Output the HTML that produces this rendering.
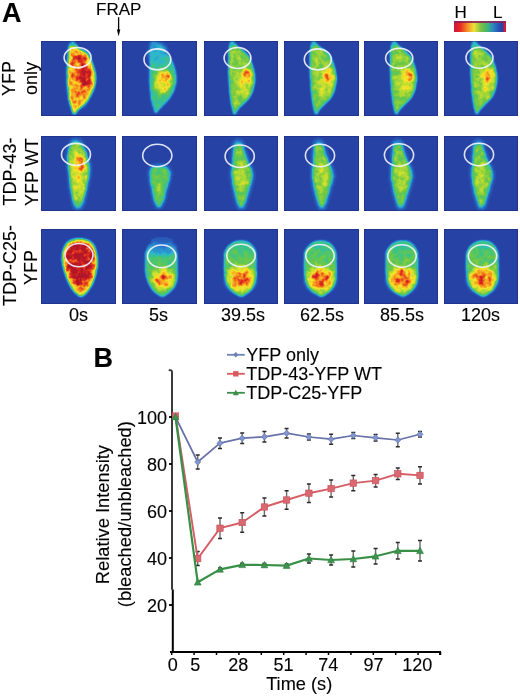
<!DOCTYPE html><html><head><meta charset="utf-8"><style>html,body{margin:0;padding:0;background:#fff;width:520px;height:696px;overflow:hidden}svg{display:block;will-change:transform}text{font-family:"Liberation Sans",sans-serif;stroke:#000;stroke-width:0.12px}</style></head><body>
<svg width="520" height="696" viewBox="0 0 520 696">
<defs>
<filter id="b1" x="-50%" y="-50%" width="200%" height="200%"><feGaussianBlur stdDeviation="1"/></filter>
<filter id="b15" x="-50%" y="-50%" width="200%" height="200%"><feGaussianBlur stdDeviation="1.5"/></filter>
<filter id="b13" x="-50%" y="-50%" width="200%" height="200%"><feGaussianBlur stdDeviation="1.3"/></filter>
<filter id="b2" x="-50%" y="-50%" width="200%" height="200%"><feGaussianBlur stdDeviation="2.2"/></filter>
<filter id="jet0" x="0" y="0" width="1" height="1" color-interpolation-filters="sRGB">
<feTurbulence type="fractalNoise" baseFrequency="0.2" numOctaves="2" seed="4" result="n"/>
<feColorMatrix in="n" type="matrix" values="1 0 0 0 0 1 0 0 0 0 1 0 0 0 0 0 0 0 0 1" result="ng"/>
<feComposite in="SourceGraphic" in2="ng" operator="arithmetic" k1="0.6" k2="0.7" k3="0" k4="0" result="m"/>
<feComponentTransfer in="m"><feFuncR type="table" tableValues="0.149 0.157 0.176 0.235 0.431 0.725 0.980 0.961 0.882 0.698"/><feFuncG type="table" tableValues="0.259 0.471 0.725 0.765 0.784 0.863 0.894 0.588 0.176 0.086"/><feFuncB type="table" tableValues="0.647 0.804 0.804 0.529 0.275 0.196 0.157 0.118 0.125 0.157"/><feFuncA type="identity"/></feComponentTransfer>
</filter>
<filter id="jet1" x="0" y="0" width="1" height="1" color-interpolation-filters="sRGB">
<feTurbulence type="fractalNoise" baseFrequency="0.2" numOctaves="2" seed="11" result="n"/>
<feColorMatrix in="n" type="matrix" values="1 0 0 0 0 1 0 0 0 0 1 0 0 0 0 0 0 0 0 1" result="ng"/>
<feComposite in="SourceGraphic" in2="ng" operator="arithmetic" k1="0.6" k2="0.7" k3="0" k4="0" result="m"/>
<feComponentTransfer in="m"><feFuncR type="table" tableValues="0.149 0.157 0.176 0.235 0.431 0.725 0.980 0.961 0.882 0.698"/><feFuncG type="table" tableValues="0.259 0.471 0.725 0.765 0.784 0.863 0.894 0.588 0.176 0.086"/><feFuncB type="table" tableValues="0.647 0.804 0.804 0.529 0.275 0.196 0.157 0.118 0.125 0.157"/><feFuncA type="identity"/></feComponentTransfer>
</filter>
<filter id="jet2" x="0" y="0" width="1" height="1" color-interpolation-filters="sRGB">
<feTurbulence type="fractalNoise" baseFrequency="0.2" numOctaves="2" seed="23" result="n"/>
<feColorMatrix in="n" type="matrix" values="1 0 0 0 0 1 0 0 0 0 1 0 0 0 0 0 0 0 0 1" result="ng"/>
<feComposite in="SourceGraphic" in2="ng" operator="arithmetic" k1="0.6" k2="0.7" k3="0" k4="0" result="m"/>
<feComponentTransfer in="m"><feFuncR type="table" tableValues="0.149 0.157 0.176 0.235 0.431 0.725 0.980 0.961 0.882 0.698"/><feFuncG type="table" tableValues="0.259 0.471 0.725 0.765 0.784 0.863 0.894 0.588 0.176 0.086"/><feFuncB type="table" tableValues="0.647 0.804 0.804 0.529 0.275 0.196 0.157 0.118 0.125 0.157"/><feFuncA type="identity"/></feComponentTransfer>
</filter>
<filter id="jet3" x="0" y="0" width="1" height="1" color-interpolation-filters="sRGB">
<feTurbulence type="fractalNoise" baseFrequency="0.2" numOctaves="2" seed="37" result="n"/>
<feColorMatrix in="n" type="matrix" values="1 0 0 0 0 1 0 0 0 0 1 0 0 0 0 0 0 0 0 1" result="ng"/>
<feComposite in="SourceGraphic" in2="ng" operator="arithmetic" k1="0.6" k2="0.7" k3="0" k4="0" result="m"/>
<feComponentTransfer in="m"><feFuncR type="table" tableValues="0.149 0.157 0.176 0.235 0.431 0.725 0.980 0.961 0.882 0.698"/><feFuncG type="table" tableValues="0.259 0.471 0.725 0.765 0.784 0.863 0.894 0.588 0.176 0.086"/><feFuncB type="table" tableValues="0.647 0.804 0.804 0.529 0.275 0.196 0.157 0.118 0.125 0.157"/><feFuncA type="identity"/></feComponentTransfer>
</filter>
<filter id="jet4" x="0" y="0" width="1" height="1" color-interpolation-filters="sRGB">
<feTurbulence type="fractalNoise" baseFrequency="0.2" numOctaves="2" seed="52" result="n"/>
<feColorMatrix in="n" type="matrix" values="1 0 0 0 0 1 0 0 0 0 1 0 0 0 0 0 0 0 0 1" result="ng"/>
<feComposite in="SourceGraphic" in2="ng" operator="arithmetic" k1="0.6" k2="0.7" k3="0" k4="0" result="m"/>
<feComponentTransfer in="m"><feFuncR type="table" tableValues="0.149 0.157 0.176 0.235 0.431 0.725 0.980 0.961 0.882 0.698"/><feFuncG type="table" tableValues="0.259 0.471 0.725 0.765 0.784 0.863 0.894 0.588 0.176 0.086"/><feFuncB type="table" tableValues="0.647 0.804 0.804 0.529 0.275 0.196 0.157 0.118 0.125 0.157"/><feFuncA type="identity"/></feComponentTransfer>
</filter>
<filter id="jet5" x="0" y="0" width="1" height="1" color-interpolation-filters="sRGB">
<feTurbulence type="fractalNoise" baseFrequency="0.2" numOctaves="2" seed="68" result="n"/>
<feColorMatrix in="n" type="matrix" values="1 0 0 0 0 1 0 0 0 0 1 0 0 0 0 0 0 0 0 1" result="ng"/>
<feComposite in="SourceGraphic" in2="ng" operator="arithmetic" k1="0.6" k2="0.7" k3="0" k4="0" result="m"/>
<feComponentTransfer in="m"><feFuncR type="table" tableValues="0.149 0.157 0.176 0.235 0.431 0.725 0.980 0.961 0.882 0.698"/><feFuncG type="table" tableValues="0.259 0.471 0.725 0.765 0.784 0.863 0.894 0.588 0.176 0.086"/><feFuncB type="table" tableValues="0.647 0.804 0.804 0.529 0.275 0.196 0.157 0.118 0.125 0.157"/><feFuncA type="identity"/></feComponentTransfer>
</filter>
<linearGradient id="cbar" x1="0" x2="1" y1="0" y2="0"><stop offset="0" stop-color="#c41a3a"/><stop offset="0.12" stop-color="#ea2424"/><stop offset="0.27" stop-color="#f59028"/><stop offset="0.4" stop-color="#eee23a"/><stop offset="0.54" stop-color="#7cc044"/><stop offset="0.68" stop-color="#3cb47a"/><stop offset="0.78" stop-color="#2c86c4"/><stop offset="0.9" stop-color="#2452b4"/><stop offset="1" stop-color="#2a3aa0"/></linearGradient>
</defs>
<svg x="41" y="41" width="75" height="75" viewBox="0 0 75 75" overflow="hidden">
<g filter="url(#jet0)"><rect x="0" y="0" width="75" height="75" fill="#000"/>
<path d="M30.5,0.5 C31.3,0.5 32.9,1.9 34.0,3.0 C35.1,4.1 35.3,5.5 36.9,7.0 C38.5,8.5 41.9,10.3 43.8,12.0 C45.7,13.7 47.2,15.2 48.5,17.0 C49.8,18.8 50.5,21.0 51.3,23.0 C52.1,25.0 52.6,27.0 53.1,29.0 C53.6,31.0 54.0,33.2 54.2,35.0 C54.4,36.8 54.4,38.2 54.2,40.0 C54.0,41.8 53.7,44.0 53.1,46.0 C52.5,48.0 51.8,50.0 50.8,52.0 C49.8,54.0 48.6,56.2 47.3,58.0 C45.9,59.8 44.4,61.2 42.7,63.0 C41.0,64.8 38.5,67.2 36.9,69.0 C35.3,70.8 34.2,73.5 33.2,73.5 C32.2,73.5 31.8,70.8 31.2,69.0 C30.6,67.2 29.9,64.8 29.4,63.0 C28.9,61.2 28.6,59.8 28.3,58.0 C28.0,56.2 27.9,54.0 27.7,52.0 C27.5,50.0 27.2,48.0 27.1,46.0 C27.0,44.0 26.9,41.8 26.8,40.0 C26.8,38.2 26.8,36.8 26.8,35.0 C26.8,33.2 26.8,31.0 26.8,29.0 C26.9,27.0 27.0,25.0 27.1,23.0 C27.2,21.0 27.4,18.8 27.5,17.0 C27.6,15.2 27.6,13.7 27.7,12.0 C27.8,10.3 28.1,8.5 28.3,7.0 C28.5,5.5 28.6,4.1 29.0,3.0 C29.4,1.9 29.7,0.5 30.5,0.5Z" fill="#9e9e9e" filter="url(#b13)"/>
<ellipse cx="31.5" cy="0" rx="4" ry="5" fill="#000000" filter="url(#b1)"/>
<path d="M29.7,-2 L33.3,-2 L33.7,6 L30.3,6Z" fill="#3d3d3d" filter="url(#b1)"/>
<path d="M31.4,5.3 C32.1,5.3 33.5,6.6 34.4,7.5 C35.3,8.4 35.5,9.6 36.9,10.9 C38.3,12.2 41.2,13.8 42.8,15.2 C44.5,16.7 45.8,18.0 46.9,19.5 C48.0,21.1 48.6,23.0 49.3,24.7 C49.9,26.4 50.4,28.1 50.8,29.9 C51.3,31.6 51.6,33.4 51.8,35.0 C51.9,36.6 51.9,37.7 51.8,39.3 C51.6,40.9 51.3,42.8 50.8,44.5 C50.3,46.2 49.7,47.9 48.9,49.6 C48.0,51.3 47.0,53.2 45.8,54.8 C44.7,56.4 43.4,57.5 41.9,59.1 C40.4,60.7 38.3,62.7 36.9,64.2 C35.5,65.8 34.5,68.1 33.7,68.1 C32.9,68.1 32.5,65.8 32.0,64.2 C31.5,62.7 30.9,60.7 30.5,59.1 C30.0,57.5 29.8,56.4 29.5,54.8 C29.3,53.2 29.2,51.3 29.0,49.6 C28.8,47.9 28.6,46.2 28.5,44.5 C28.3,42.8 28.3,40.9 28.2,39.3 C28.2,37.7 28.2,36.6 28.2,35.0 C28.2,33.4 28.2,31.6 28.2,29.9 C28.3,28.1 28.4,26.4 28.5,24.7 C28.6,23.0 28.7,21.1 28.8,19.5 C28.9,18.0 28.9,16.7 29.0,15.2 C29.1,13.8 29.3,12.2 29.5,10.9 C29.7,9.6 29.8,8.4 30.1,7.5 C30.4,6.6 30.7,5.3 31.4,5.3Z" fill="#c7c7c7" filter="url(#b2)"/>
<ellipse cx="44" cy="35" rx="7" ry="12" fill="#ededed" filter="url(#b2)"/>
<ellipse cx="41" cy="17" rx="6" ry="6" fill="#e6e6e6" filter="url(#b2)"/>
<ellipse cx="39" cy="55" rx="6" ry="10" fill="#c4c4c4" filter="url(#b2)"/>
</g>
<rect x="0.5" y="0.5" width="74" height="74" fill="none" stroke="#1c2a7a" stroke-opacity="0.55" stroke-width="1"/>
<ellipse cx="36.6" cy="16.6" rx="13.5" ry="10.1" fill="none" stroke="#f4f4ff" stroke-opacity="0.9" stroke-width="1.6"/>
</svg>
<svg x="122" y="41" width="75" height="75" viewBox="0 0 75 75" overflow="hidden">
<g filter="url(#jet1)"><rect x="0" y="0" width="75" height="75" fill="#000"/>
<path d="M29.7,-2 L33.3,-2 L33.7,6 L30.3,6Z" fill="#1f1f1f" filter="url(#b1)"/>
<path d="M31.2,1.5 C32.0,1.5 33.6,2.9 34.6,4.0 C35.6,5.0 35.8,6.4 37.4,7.8 C39.0,9.3 42.2,11.1 44.1,12.7 C46.0,14.3 47.4,15.8 48.7,17.5 C49.9,19.3 50.6,21.4 51.4,23.4 C52.1,25.3 52.6,27.2 53.1,29.2 C53.6,31.1 54.0,33.2 54.2,35.0 C54.4,36.8 54.4,38.1 54.2,39.9 C54.0,41.6 53.7,43.7 53.1,45.7 C52.6,47.6 51.8,49.6 50.9,51.5 C49.9,53.4 48.8,55.5 47.5,57.3 C46.2,59.1 44.7,60.4 43.0,62.2 C41.3,63.9 38.9,66.3 37.4,68.0 C35.9,69.7 34.7,72.3 33.8,72.3 C32.9,72.3 32.5,69.7 31.9,68.0 C31.3,66.3 30.6,63.9 30.1,62.2 C29.7,60.4 29.3,59.1 29.1,57.3 C28.8,55.5 28.7,53.4 28.5,51.5 C28.3,49.6 28.0,47.6 27.9,45.7 C27.7,43.7 27.7,41.6 27.6,39.9 C27.6,38.1 27.6,36.8 27.6,35.0 C27.6,33.2 27.6,31.1 27.6,29.2 C27.7,27.2 27.8,25.3 27.9,23.4 C28.0,21.4 28.2,19.3 28.3,17.5 C28.4,15.8 28.3,14.3 28.5,12.7 C28.6,11.1 28.8,9.3 29.1,7.8 C29.3,6.4 29.4,5.0 29.7,4.0 C30.1,2.9 30.4,1.5 31.2,1.5Z" fill="#525252" filter="url(#b13)"/>
<ellipse cx="36" cy="13" rx="9" ry="11" fill="#383838" filter="url(#b2)"/>
<ellipse cx="31.5" cy="3" rx="3" ry="5" fill="#242424" filter="url(#b2)"/>
<ellipse cx="41" cy="41" rx="8.5" ry="12" fill="#a6a6a6" filter="url(#b2)"/>
<ellipse cx="43.5" cy="35.5" rx="5" ry="5" fill="#cccccc" filter="url(#b15)"/>
</g>
<rect x="0.5" y="0.5" width="74" height="74" fill="none" stroke="#1c2a7a" stroke-opacity="0.55" stroke-width="1"/>
<ellipse cx="35.4" cy="18.4" rx="13.4" ry="10.5" fill="none" stroke="#f4f4ff" stroke-opacity="0.9" stroke-width="1.6"/>
</svg>
<svg x="204" y="41" width="74" height="75" viewBox="0 0 74 75" overflow="hidden">
<g filter="url(#jet2)"><rect x="0" y="0" width="74" height="75" fill="#000"/>
<path d="M27.3,0.5 C28.1,0.5 29.7,1.9 31.0,3.0 C32.3,4.1 33.2,5.5 35.0,7.0 C36.8,8.5 39.7,10.3 41.5,12.0 C43.3,13.7 44.5,15.2 45.6,17.0 C46.7,18.8 47.2,21.0 47.9,23.0 C48.6,25.0 49.1,27.0 49.6,29.0 C50.1,31.0 50.4,33.2 50.6,35.0 C50.8,36.8 50.8,38.2 50.6,40.0 C50.4,41.8 49.9,44.0 49.4,46.0 C48.9,48.0 48.6,50.0 47.7,52.0 C46.8,54.0 45.6,56.2 44.2,58.0 C42.8,59.8 41.0,61.2 39.2,63.0 C37.4,64.8 35.0,67.2 33.5,69.0 C32.0,70.8 31.3,73.5 30.5,73.5 C29.7,73.5 29.3,70.8 28.8,69.0 C28.3,67.2 28.0,64.8 27.7,63.0 C27.4,61.2 27.2,59.8 27.0,58.0 C26.8,56.2 26.5,54.0 26.3,52.0 C26.1,50.0 26.0,48.0 25.9,46.0 C25.8,44.0 25.6,41.8 25.5,40.0 C25.4,38.2 25.3,36.8 25.2,35.0 C25.1,33.2 25.0,31.0 25.0,29.0 C25.0,27.0 25.0,25.0 25.0,23.0 C25.0,21.0 25.0,18.8 25.0,17.0 C25.0,15.2 24.9,13.7 25.0,12.0 C25.1,10.3 25.3,8.5 25.5,7.0 C25.7,5.5 25.7,4.1 26.0,3.0 C26.3,1.9 26.5,0.5 27.3,0.5Z" fill="#707070" filter="url(#b13)"/>
<ellipse cx="27.5" cy="0" rx="3.5" ry="4" fill="#000000" filter="url(#b1)"/>
<path d="M26.2,-2 L29.8,-2 L30.2,6 L26.8,6Z" fill="#424242" filter="url(#b1)"/>
<path d="M28.7,7.4 C29.4,7.4 30.6,8.5 31.7,9.4 C32.7,10.3 33.5,11.4 34.9,12.6 C36.3,13.8 38.7,15.3 40.1,16.6 C41.5,17.9 42.5,19.1 43.3,20.6 C44.2,22.1 44.7,23.8 45.2,25.4 C45.7,27.0 46.2,28.6 46.5,30.2 C46.9,31.8 47.2,33.5 47.3,35.0 C47.5,36.5 47.5,37.5 47.3,39.0 C47.2,40.5 46.8,42.2 46.4,43.8 C46.0,45.4 45.7,47.0 45.0,48.6 C44.3,50.2 43.4,51.9 42.2,53.4 C41.1,54.9 39.7,55.9 38.2,57.4 C36.8,58.9 34.8,60.8 33.7,62.2 C32.5,63.6 31.9,65.8 31.3,65.8 C30.6,65.8 30.3,63.6 29.9,62.2 C29.5,60.8 29.3,58.9 29.0,57.4 C28.8,55.9 28.7,54.9 28.5,53.4 C28.3,51.9 28.1,50.2 27.9,48.6 C27.8,47.0 27.7,45.4 27.6,43.8 C27.5,42.2 27.4,40.5 27.3,39.0 C27.2,37.5 27.1,36.5 27.0,35.0 C27.0,33.5 26.9,31.8 26.9,30.2 C26.8,28.6 26.9,27.0 26.9,25.4 C26.9,23.8 26.9,22.1 26.9,20.6 C26.9,19.1 26.8,17.9 26.9,16.6 C26.9,15.3 27.1,13.8 27.3,12.6 C27.4,11.4 27.4,10.3 27.7,9.4 C27.9,8.5 28.0,7.4 28.7,7.4Z" fill="#7a7a7a" filter="url(#b2)"/>
<ellipse cx="40" cy="42" rx="7" ry="14" fill="#949494" filter="url(#b2)"/>
<ellipse cx="33" cy="15" rx="5" ry="7" fill="#808080" filter="url(#b2)"/>
<ellipse cx="42.5" cy="34.5" rx="5.5" ry="6.5" fill="#bdbdbd" filter="url(#b15)"/>
<ellipse cx="43.5" cy="37" rx="2.5" ry="3" fill="#cccccc" filter="url(#b1)"/>
</g>
<rect x="0.5" y="0.5" width="73" height="74" fill="none" stroke="#1c2a7a" stroke-opacity="0.55" stroke-width="1"/>
<ellipse cx="33.5" cy="17" rx="13.4" ry="10.5" fill="none" stroke="#f4f4ff" stroke-opacity="0.9" stroke-width="1.6"/>
</svg>
<svg x="284" y="41" width="75" height="75" viewBox="0 0 75 75" overflow="hidden">
<g filter="url(#jet3)"><rect x="0" y="0" width="75" height="75" fill="#000"/>
<path d="M28.8,0.5 C29.6,0.5 31.2,1.9 32.5,3.0 C33.8,4.1 34.8,5.5 36.5,7.0 C38.2,8.5 41.2,10.3 43.0,12.0 C44.8,13.7 46.0,15.2 47.1,17.0 C48.2,18.8 48.7,21.0 49.4,23.0 C50.1,25.0 50.6,27.0 51.1,29.0 C51.6,31.0 51.9,33.2 52.1,35.0 C52.3,36.8 52.3,38.2 52.1,40.0 C51.9,41.8 51.4,44.0 50.9,46.0 C50.4,48.0 50.1,50.0 49.2,52.0 C48.3,54.0 47.1,56.2 45.7,58.0 C44.3,59.8 42.5,61.2 40.7,63.0 C38.9,64.8 36.5,67.2 35.0,69.0 C33.5,70.8 32.8,73.5 32.0,73.5 C31.2,73.5 30.8,70.8 30.3,69.0 C29.8,67.2 29.5,64.8 29.2,63.0 C28.9,61.2 28.7,59.8 28.5,58.0 C28.3,56.2 28.0,54.0 27.8,52.0 C27.6,50.0 27.5,48.0 27.4,46.0 C27.3,44.0 27.1,41.8 27.0,40.0 C26.9,38.2 26.8,36.8 26.7,35.0 C26.6,33.2 26.5,31.0 26.5,29.0 C26.5,27.0 26.5,25.0 26.5,23.0 C26.5,21.0 26.5,18.8 26.5,17.0 C26.5,15.2 26.4,13.7 26.5,12.0 C26.6,10.3 26.8,8.5 27.0,7.0 C27.2,5.5 27.2,4.1 27.5,3.0 C27.8,1.9 28.0,0.5 28.8,0.5Z" fill="#707070" filter="url(#b13)"/>
<ellipse cx="29.0" cy="0" rx="3.5" ry="4" fill="#000000" filter="url(#b1)"/>
<path d="M27.7,-2 L31.3,-2 L31.7,6 L28.3,6Z" fill="#424242" filter="url(#b1)"/>
<path d="M30.2,7.4 C30.9,7.4 32.1,8.5 33.2,9.4 C34.2,10.3 35.0,11.4 36.4,12.6 C37.8,13.8 40.2,15.3 41.6,16.6 C43.0,17.9 44.0,19.1 44.8,20.6 C45.7,22.1 46.2,23.8 46.7,25.4 C47.2,27.0 47.7,28.6 48.0,30.2 C48.4,31.8 48.7,33.5 48.8,35.0 C49.0,36.5 49.0,37.5 48.8,39.0 C48.7,40.5 48.3,42.2 47.9,43.8 C47.5,45.4 47.2,47.0 46.5,48.6 C45.8,50.2 44.9,51.9 43.7,53.4 C42.6,54.9 41.2,55.9 39.7,57.4 C38.3,58.9 36.3,60.8 35.2,62.2 C34.0,63.6 33.4,65.8 32.8,65.8 C32.1,65.8 31.8,63.6 31.4,62.2 C31.0,60.8 30.8,58.9 30.5,57.4 C30.3,55.9 30.2,54.9 30.0,53.4 C29.8,51.9 29.6,50.2 29.4,48.6 C29.3,47.0 29.2,45.4 29.1,43.8 C29.0,42.2 28.9,40.5 28.8,39.0 C28.7,37.5 28.6,36.5 28.5,35.0 C28.5,33.5 28.4,31.8 28.4,30.2 C28.3,28.6 28.4,27.0 28.4,25.4 C28.4,23.8 28.4,22.1 28.4,20.6 C28.4,19.1 28.3,17.9 28.4,16.6 C28.4,15.3 28.6,13.8 28.8,12.6 C28.9,11.4 28.9,10.3 29.2,9.4 C29.4,8.5 29.5,7.4 30.2,7.4Z" fill="#7a7a7a" filter="url(#b2)"/>
<ellipse cx="41.5" cy="42" rx="7" ry="14" fill="#949494" filter="url(#b2)"/>
<ellipse cx="34.5" cy="15" rx="5" ry="7" fill="#808080" filter="url(#b2)"/>
<ellipse cx="44.0" cy="34.5" rx="5.5" ry="6.5" fill="#bdbdbd" filter="url(#b15)"/>
<ellipse cx="45.0" cy="37" rx="2.5" ry="3" fill="#cccccc" filter="url(#b1)"/>
</g>
<rect x="0.5" y="0.5" width="74" height="74" fill="none" stroke="#1c2a7a" stroke-opacity="0.55" stroke-width="1"/>
<ellipse cx="33.8" cy="18.4" rx="13.5" ry="10.5" fill="none" stroke="#f4f4ff" stroke-opacity="0.9" stroke-width="1.6"/>
</svg>
<svg x="364" y="41" width="74" height="75" viewBox="0 0 74 75" overflow="hidden">
<g filter="url(#jet4)"><rect x="0" y="0" width="74" height="75" fill="#000"/>
<path d="M29.1,0.5 C29.9,0.5 31.5,1.9 32.8,3.0 C34.1,4.1 35.0,5.5 36.8,7.0 C38.5,8.5 41.5,10.3 43.3,12.0 C45.1,13.7 46.3,15.2 47.4,17.0 C48.5,18.8 49.0,21.0 49.7,23.0 C50.4,25.0 50.9,27.0 51.4,29.0 C51.9,31.0 52.2,33.2 52.4,35.0 C52.6,36.8 52.6,38.2 52.4,40.0 C52.2,41.8 51.7,44.0 51.2,46.0 C50.7,48.0 50.4,50.0 49.5,52.0 C48.6,54.0 47.4,56.2 46.0,58.0 C44.6,59.8 42.8,61.2 41.0,63.0 C39.2,64.8 36.8,67.2 35.3,69.0 C33.8,70.8 33.1,73.5 32.3,73.5 C31.5,73.5 31.1,70.8 30.6,69.0 C30.1,67.2 29.8,64.8 29.5,63.0 C29.2,61.2 29.0,59.8 28.8,58.0 C28.6,56.2 28.3,54.0 28.1,52.0 C27.9,50.0 27.8,48.0 27.7,46.0 C27.6,44.0 27.4,41.8 27.3,40.0 C27.2,38.2 27.1,36.8 27.0,35.0 C26.9,33.2 26.8,31.0 26.8,29.0 C26.8,27.0 26.8,25.0 26.8,23.0 C26.8,21.0 26.8,18.8 26.8,17.0 C26.8,15.2 26.7,13.7 26.8,12.0 C26.9,10.3 27.1,8.5 27.3,7.0 C27.5,5.5 27.5,4.1 27.8,3.0 C28.1,1.9 28.3,0.5 29.1,0.5Z" fill="#707070" filter="url(#b13)"/>
<ellipse cx="29.3" cy="0" rx="3.5" ry="4" fill="#000000" filter="url(#b1)"/>
<path d="M28.0,-2 L31.6,-2 L32.0,6 L28.6,6Z" fill="#424242" filter="url(#b1)"/>
<path d="M30.5,7.4 C31.2,7.4 32.4,8.5 33.5,9.4 C34.5,10.3 35.3,11.4 36.7,12.6 C38.1,13.8 40.5,15.3 41.9,16.6 C43.3,17.9 44.3,19.1 45.1,20.6 C46.0,22.1 46.5,23.8 47.0,25.4 C47.5,27.0 48.0,28.6 48.3,30.2 C48.7,31.8 49.0,33.5 49.1,35.0 C49.3,36.5 49.3,37.5 49.1,39.0 C49.0,40.5 48.6,42.2 48.2,43.8 C47.8,45.4 47.5,47.0 46.8,48.6 C46.1,50.2 45.2,51.9 44.0,53.4 C42.9,54.9 41.5,55.9 40.0,57.4 C38.6,58.9 36.6,60.8 35.5,62.2 C34.3,63.6 33.7,65.8 33.1,65.8 C32.4,65.8 32.1,63.6 31.7,62.2 C31.3,60.8 31.1,58.9 30.8,57.4 C30.6,55.9 30.5,54.9 30.3,53.4 C30.1,51.9 29.9,50.2 29.7,48.6 C29.6,47.0 29.5,45.4 29.4,43.8 C29.3,42.2 29.2,40.5 29.1,39.0 C29.0,37.5 28.9,36.5 28.8,35.0 C28.8,33.5 28.7,31.8 28.7,30.2 C28.6,28.6 28.7,27.0 28.7,25.4 C28.7,23.8 28.7,22.1 28.7,20.6 C28.7,19.1 28.6,17.9 28.7,16.6 C28.7,15.3 28.9,13.8 29.1,12.6 C29.2,11.4 29.2,10.3 29.5,9.4 C29.7,8.5 29.8,7.4 30.5,7.4Z" fill="#7a7a7a" filter="url(#b2)"/>
<ellipse cx="41.8" cy="42" rx="7" ry="14" fill="#949494" filter="url(#b2)"/>
<ellipse cx="34.8" cy="15" rx="5" ry="7" fill="#808080" filter="url(#b2)"/>
<ellipse cx="44.3" cy="34.5" rx="5.5" ry="6.5" fill="#bdbdbd" filter="url(#b15)"/>
<ellipse cx="45.3" cy="37" rx="2.5" ry="3" fill="#cccccc" filter="url(#b1)"/>
</g>
<rect x="0.5" y="0.5" width="73" height="74" fill="none" stroke="#1c2a7a" stroke-opacity="0.55" stroke-width="1"/>
<ellipse cx="35.2" cy="17.3" rx="13.6" ry="10.1" fill="none" stroke="#f4f4ff" stroke-opacity="0.9" stroke-width="1.6"/>
</svg>
<svg x="444" y="41" width="74" height="75" viewBox="0 0 74 75" overflow="hidden">
<g filter="url(#jet5)"><rect x="0" y="0" width="74" height="75" fill="#000"/>
<path d="M29.5,0.5 C30.3,0.5 31.9,1.9 33.2,3.0 C34.5,4.1 35.5,5.5 37.2,7.0 C39.0,8.5 41.9,10.3 43.7,12.0 C45.5,13.7 46.7,15.2 47.8,17.0 C48.9,18.8 49.4,21.0 50.1,23.0 C50.8,25.0 51.4,27.0 51.8,29.0 C52.3,31.0 52.6,33.2 52.8,35.0 C53.0,36.8 53.0,38.2 52.8,40.0 C52.6,41.8 52.1,44.0 51.6,46.0 C51.1,48.0 50.8,50.0 49.9,52.0 C49.0,54.0 47.8,56.2 46.4,58.0 C45.0,59.8 43.2,61.2 41.4,63.0 C39.6,64.8 37.2,67.2 35.7,69.0 C34.2,70.8 33.5,73.5 32.7,73.5 C31.9,73.5 31.5,70.8 31.0,69.0 C30.5,67.2 30.2,64.8 29.9,63.0 C29.6,61.2 29.4,59.8 29.2,58.0 C29.0,56.2 28.7,54.0 28.5,52.0 C28.3,50.0 28.2,48.0 28.1,46.0 C28.0,44.0 27.8,41.8 27.7,40.0 C27.6,38.2 27.5,36.8 27.4,35.0 C27.3,33.2 27.2,31.0 27.2,29.0 C27.2,27.0 27.2,25.0 27.2,23.0 C27.2,21.0 27.2,18.8 27.2,17.0 C27.2,15.2 27.1,13.7 27.2,12.0 C27.3,10.3 27.5,8.5 27.7,7.0 C27.9,5.5 27.9,4.1 28.2,3.0 C28.5,1.9 28.7,0.5 29.5,0.5Z" fill="#707070" filter="url(#b13)"/>
<ellipse cx="29.7" cy="0" rx="3.5" ry="4" fill="#000000" filter="url(#b1)"/>
<path d="M28.4,-2 L32.0,-2 L32.4,6 L29.0,6Z" fill="#424242" filter="url(#b1)"/>
<path d="M30.9,7.4 C31.6,7.4 32.8,8.5 33.9,9.4 C34.9,10.3 35.7,11.4 37.1,12.6 C38.5,13.8 40.9,15.3 42.3,16.6 C43.7,17.9 44.7,19.1 45.5,20.6 C46.4,22.1 46.9,23.8 47.4,25.4 C47.9,27.0 48.4,28.6 48.7,30.2 C49.1,31.8 49.4,33.5 49.5,35.0 C49.7,36.5 49.7,37.5 49.5,39.0 C49.4,40.5 49.0,42.2 48.6,43.8 C48.2,45.4 47.9,47.0 47.2,48.6 C46.5,50.2 45.6,51.9 44.4,53.4 C43.3,54.9 41.9,55.9 40.4,57.4 C39.0,58.9 37.0,60.8 35.9,62.2 C34.7,63.6 34.1,65.8 33.5,65.8 C32.8,65.8 32.5,63.6 32.1,62.2 C31.7,60.8 31.5,58.9 31.2,57.4 C31.0,55.9 30.9,54.9 30.7,53.4 C30.5,51.9 30.3,50.2 30.1,48.6 C30.0,47.0 29.9,45.4 29.8,43.8 C29.7,42.2 29.6,40.5 29.5,39.0 C29.4,37.5 29.3,36.5 29.2,35.0 C29.2,33.5 29.1,31.8 29.1,30.2 C29.0,28.6 29.1,27.0 29.1,25.4 C29.1,23.8 29.1,22.1 29.1,20.6 C29.1,19.1 29.0,17.9 29.1,16.6 C29.1,15.3 29.3,13.8 29.5,12.6 C29.6,11.4 29.6,10.3 29.9,9.4 C30.1,8.5 30.2,7.4 30.9,7.4Z" fill="#7a7a7a" filter="url(#b2)"/>
<ellipse cx="42.2" cy="42" rx="7" ry="14" fill="#949494" filter="url(#b2)"/>
<ellipse cx="35.2" cy="15" rx="5" ry="7" fill="#808080" filter="url(#b2)"/>
<ellipse cx="44.7" cy="34.5" rx="5.5" ry="6.5" fill="#bdbdbd" filter="url(#b15)"/>
<ellipse cx="45.7" cy="37" rx="2.5" ry="3" fill="#cccccc" filter="url(#b1)"/>
</g>
<rect x="0.5" y="0.5" width="73" height="74" fill="none" stroke="#1c2a7a" stroke-opacity="0.55" stroke-width="1"/>
<ellipse cx="35.5" cy="16.7" rx="13.5" ry="10.5" fill="none" stroke="#f4f4ff" stroke-opacity="0.9" stroke-width="1.6"/>
</svg>
<svg x="41" y="136" width="75" height="75" viewBox="0 0 75 75" overflow="hidden">
<g filter="url(#jet2)"><rect x="0" y="0" width="75" height="75" fill="#000"/>
<path d="M34.8,2.9 C36.3,2.9 38.2,4.0 39.4,5.1 C40.7,6.2 41.4,7.9 42.4,9.5 C43.4,11.2 44.7,13.2 45.4,15.0 C46.1,16.8 46.1,18.5 46.6,20.5 C47.1,22.5 47.9,24.9 48.3,27.1 C48.7,29.3 49.0,31.5 49.0,33.7 C49.0,35.9 48.6,38.3 48.3,40.3 C48.0,42.3 47.6,43.8 47.2,45.8 C46.8,47.8 46.4,50.4 46.0,52.4 C45.6,54.4 45.3,55.9 44.8,57.9 C44.3,59.9 43.6,62.5 43.0,64.5 C42.5,66.5 42.3,68.4 41.3,70.0 C40.3,71.7 38.4,74.4 37.0,74.4 C35.6,74.4 33.8,71.7 32.9,70.0 C32.0,68.4 32.1,66.5 31.7,64.5 C31.3,62.5 31.0,59.9 30.6,57.9 C30.2,55.9 29.7,54.4 29.4,52.4 C29.1,50.4 29.0,47.8 28.7,45.8 C28.5,43.8 28.4,42.3 28.2,40.3 C28.0,38.3 27.9,35.9 27.6,33.7 C27.4,31.5 27.2,29.3 27.0,27.1 C26.8,24.9 26.4,22.5 26.4,20.5 C26.4,18.5 26.7,16.8 27.0,15.0 C27.3,13.2 27.6,11.2 28.2,9.5 C28.8,7.9 29.5,6.2 30.6,5.1 C31.7,4.0 33.3,2.9 34.8,2.9Z" fill="#333333" filter="url(#b2)"/>
<path d="M35.0,6.0 C36.3,6.0 38.1,7.0 39.2,8.0 C40.4,9.0 41.0,10.5 41.9,12.0 C42.8,13.5 44.0,15.3 44.6,17.0 C45.2,18.7 45.2,20.2 45.7,22.0 C46.2,23.8 46.9,26.0 47.3,28.0 C47.7,30.0 47.9,32.0 47.9,34.0 C47.9,36.0 47.6,38.2 47.3,40.0 C47.0,41.8 46.6,43.2 46.3,45.0 C45.9,46.8 45.6,49.2 45.2,51.0 C44.8,52.8 44.6,54.2 44.1,56.0 C43.6,57.8 43.0,60.2 42.5,62.0 C42.0,63.8 41.8,65.5 40.9,67.0 C40.0,68.5 38.3,71.0 37.0,71.0 C35.7,71.0 34.1,68.5 33.3,67.0 C32.5,65.5 32.6,63.8 32.2,62.0 C31.9,60.2 31.6,57.8 31.2,56.0 C30.8,54.2 30.4,52.8 30.1,51.0 C29.8,49.2 29.7,46.8 29.5,45.0 C29.3,43.2 29.2,41.8 29.0,40.0 C28.8,38.2 28.7,36.0 28.5,34.0 C28.3,32.0 28.1,30.0 27.9,28.0 C27.7,26.0 27.4,23.8 27.4,22.0 C27.4,20.2 27.6,18.7 27.9,17.0 C28.2,15.3 28.4,13.5 29.0,12.0 C29.6,10.5 30.2,9.0 31.2,8.0 C32.2,7.0 33.7,6.0 35.0,6.0Z" fill="#7d7d7d" filter="url(#b13)"/>
<path d="M35.5,13.7 C36.5,13.7 37.8,14.5 38.7,15.2 C39.5,16.0 40.0,17.1 40.7,18.2 C41.4,19.4 42.2,20.7 42.7,22.0 C43.2,23.2 43.2,24.4 43.5,25.7 C43.9,27.1 44.5,28.7 44.7,30.2 C45.0,31.7 45.2,33.2 45.2,34.7 C45.2,36.2 44.9,37.9 44.7,39.2 C44.5,40.6 44.2,41.6 44.0,43.0 C43.7,44.4 43.4,46.1 43.2,47.5 C42.9,48.9 42.7,49.9 42.3,51.2 C42.0,52.6 41.5,54.4 41.1,55.7 C40.7,57.1 40.6,58.4 39.9,59.5 C39.2,60.6 38.0,62.5 37.0,62.5 C36.1,62.5 34.8,60.6 34.2,59.5 C33.6,58.4 33.7,57.1 33.4,55.7 C33.1,54.4 32.9,52.6 32.7,51.2 C32.4,49.9 32.0,48.9 31.8,47.5 C31.6,46.1 31.5,44.4 31.4,43.0 C31.2,41.6 31.1,40.6 31.0,39.2 C30.9,37.9 30.8,36.2 30.6,34.7 C30.5,33.2 30.3,31.7 30.2,30.2 C30.0,28.7 29.8,27.1 29.8,25.7 C29.8,24.4 30.0,23.2 30.2,22.0 C30.4,20.7 30.6,19.4 31.0,18.2 C31.4,17.1 31.9,16.0 32.7,15.2 C33.4,14.5 34.5,13.7 35.5,13.7Z" fill="#999999" filter="url(#b2)"/>
<ellipse cx="38.5" cy="28" rx="4.5" ry="9" fill="#cccccc" filter="url(#b15)"/>
</g>
<rect x="0.5" y="0.5" width="74" height="74" fill="none" stroke="#1c2a7a" stroke-opacity="0.55" stroke-width="1"/>
<ellipse cx="35" cy="18.4" rx="14.5" ry="11" fill="none" stroke="#f4f4ff" stroke-opacity="0.9" stroke-width="1.6"/>
</svg>
<svg x="122" y="136" width="75" height="75" viewBox="0 0 75 75" overflow="hidden">
<g filter="url(#jet3)"><rect x="0" y="0" width="75" height="75" fill="#000"/>
<ellipse cx="35" cy="19" rx="12" ry="10" fill="#050505" filter="url(#b2)"/>
<path d="M37.0,29.2 C39.3,29.2 42.8,29.4 44.7,30.3 C46.6,31.2 47.7,33.2 48.3,34.7 C48.9,36.2 48.5,37.5 48.3,39.1 C48.1,40.8 47.7,42.6 47.2,44.6 C46.7,46.6 45.9,49.2 45.3,51.2 C44.7,53.2 44.0,54.7 43.6,56.7 C43.1,58.7 43.0,61.3 42.5,63.3 C41.9,65.3 41.0,67.3 40.0,68.8 C39.1,70.4 38.0,72.7 37.0,72.7 C35.9,72.7 34.4,70.4 33.6,68.8 C32.7,67.3 32.2,65.3 31.7,63.3 C31.2,61.3 31.0,58.7 30.6,56.7 C30.2,54.7 29.8,53.2 29.4,51.2 C29.0,49.2 28.5,46.6 28.2,44.6 C27.9,42.6 27.7,40.8 27.6,39.1 C27.5,37.5 27.2,36.2 27.6,34.7 C28.1,33.2 28.8,31.2 30.4,30.3 C31.9,29.4 34.6,29.2 37.0,29.2Z" fill="#333333" filter="url(#b2)"/>
<path d="M37.0,31.0 C39.2,31.0 42.3,31.2 44.0,32.0 C45.7,32.8 46.8,34.7 47.3,36.0 C47.8,37.3 47.5,38.5 47.3,40.0 C47.1,41.5 46.8,43.2 46.3,45.0 C45.8,46.8 45.1,49.2 44.6,51.0 C44.1,52.8 43.4,54.2 43.0,56.0 C42.6,57.8 42.5,60.2 42.0,62.0 C41.5,63.8 40.6,65.6 39.8,67.0 C39.0,68.4 38.0,70.5 37.0,70.5 C36.0,70.5 34.7,68.4 33.9,67.0 C33.1,65.6 32.7,63.8 32.2,62.0 C31.8,60.2 31.6,57.8 31.2,56.0 C30.8,54.2 30.5,52.8 30.1,51.0 C29.7,49.2 29.3,46.8 29.0,45.0 C28.7,43.2 28.6,41.5 28.5,40.0 C28.4,38.5 28.1,37.3 28.5,36.0 C28.9,34.7 29.6,32.8 31.0,32.0 C32.4,31.2 34.8,31.0 37.0,31.0Z" fill="#696969" filter="url(#b13)"/>
<ellipse cx="36" cy="54" rx="2.5" ry="7" fill="#808080" filter="url(#b2)"/>
</g>
<rect x="0.5" y="0.5" width="74" height="74" fill="none" stroke="#1c2a7a" stroke-opacity="0.55" stroke-width="1"/>
<ellipse cx="35.3" cy="19.5" rx="14.6" ry="11.3" fill="none" stroke="#f4f4ff" stroke-opacity="0.9" stroke-width="1.6"/>
</svg>
<svg x="204" y="136" width="74" height="75" viewBox="0 0 74 75" overflow="hidden">
<g filter="url(#jet4)"><rect x="0" y="0" width="74" height="75" fill="#000"/>
<path d="M34.2,4.3 C35.6,4.3 37.4,5.0 38.4,6.5 C39.4,8.0 39.5,11.0 40.2,13.2 C40.9,15.5 41.7,17.7 42.5,19.9 C43.3,22.2 44.1,24.4 45.0,26.7 C45.9,28.9 47.3,31.1 48.0,33.4 C48.7,35.6 49.2,38.0 49.2,40.1 C49.2,42.1 48.5,43.6 48.0,45.7 C47.5,47.7 46.8,50.4 46.2,52.4 C45.6,54.5 45.0,56.0 44.4,58.0 C43.8,60.1 43.1,62.7 42.5,64.7 C41.9,66.8 41.6,68.7 40.7,70.3 C39.8,72.0 38.1,74.8 37.0,74.8 C35.9,74.8 34.9,72.0 34.1,70.3 C33.3,68.7 32.9,66.8 32.3,64.7 C31.7,62.7 31.0,60.1 30.5,58.0 C30.0,56.0 29.7,54.5 29.3,52.4 C28.9,50.4 28.4,47.7 28.1,45.7 C27.8,43.6 27.6,42.1 27.5,40.1 C27.4,38.0 27.3,35.6 27.5,33.4 C27.7,31.1 28.4,28.9 28.6,26.7 C28.8,24.4 28.5,22.2 28.6,19.9 C28.7,17.7 29.1,15.5 29.3,13.2 C29.5,11.0 29.0,8.0 29.9,6.5 C30.7,5.0 32.8,4.3 34.2,4.3Z" fill="#333333" filter="url(#b2)"/>
<path d="M34.5,8.0 C35.8,8.0 37.3,8.7 38.2,10.0 C39.1,11.3 39.2,14.0 39.8,16.0 C40.4,18.0 41.2,20.0 41.9,22.0 C42.6,24.0 43.3,26.0 44.1,28.0 C44.9,30.0 46.2,32.0 46.8,34.0 C47.4,36.0 47.9,38.2 47.9,40.0 C47.9,41.8 47.2,43.2 46.8,45.0 C46.3,46.8 45.7,49.2 45.2,51.0 C44.7,52.8 44.2,54.2 43.6,56.0 C43.0,57.8 42.5,60.2 41.9,62.0 C41.3,63.8 41.1,65.5 40.3,67.0 C39.5,68.5 38.0,71.0 37.0,71.0 C36.0,71.0 35.1,68.5 34.4,67.0 C33.7,65.5 33.3,63.8 32.8,62.0 C32.3,60.2 31.6,57.8 31.2,56.0 C30.8,54.2 30.5,52.8 30.1,51.0 C29.7,49.2 29.3,46.8 29.0,45.0 C28.7,43.2 28.6,41.8 28.5,40.0 C28.4,38.2 28.3,36.0 28.5,34.0 C28.7,32.0 29.3,30.0 29.5,28.0 C29.7,26.0 29.4,24.0 29.5,22.0 C29.6,20.0 29.9,18.0 30.1,16.0 C30.3,14.0 29.9,11.3 30.6,10.0 C31.3,8.7 33.2,8.0 34.5,8.0Z" fill="#737373" filter="url(#b13)"/>
<ellipse cx="37.5" cy="40" rx="5" ry="15" fill="#8c8c8c" filter="url(#b2)"/>
</g>
<rect x="0.5" y="0.5" width="73" height="74" fill="none" stroke="#1c2a7a" stroke-opacity="0.55" stroke-width="1"/>
<ellipse cx="35.7" cy="20.2" rx="14.6" ry="11.2" fill="none" stroke="#f4f4ff" stroke-opacity="0.9" stroke-width="1.6"/>
</svg>
<svg x="284" y="136" width="75" height="75" viewBox="0 0 75 75" overflow="hidden">
<g filter="url(#jet5)"><rect x="0" y="0" width="75" height="75" fill="#000"/>
<path d="M34.7,4.3 C36.1,4.3 37.9,5.0 38.9,6.5 C39.9,8.0 40.0,11.0 40.7,13.2 C41.4,15.5 42.2,17.7 43.0,19.9 C43.8,22.2 44.6,24.4 45.5,26.7 C46.4,28.9 47.8,31.1 48.5,33.4 C49.2,35.6 49.7,38.0 49.7,40.1 C49.7,42.1 49.0,43.6 48.5,45.7 C48.0,47.7 47.3,50.4 46.7,52.4 C46.1,54.5 45.5,56.0 44.9,58.0 C44.3,60.1 43.6,62.7 43.0,64.7 C42.4,66.8 42.1,68.7 41.2,70.3 C40.3,72.0 38.6,74.8 37.5,74.8 C36.4,74.8 35.4,72.0 34.6,70.3 C33.8,68.7 33.4,66.8 32.8,64.7 C32.2,62.7 31.5,60.1 31.0,58.0 C30.5,56.0 30.2,54.5 29.8,52.4 C29.4,50.4 28.9,47.7 28.6,45.7 C28.3,43.6 28.1,42.1 28.0,40.1 C27.9,38.0 27.8,35.6 28.0,33.4 C28.2,31.1 28.9,28.9 29.1,26.7 C29.3,24.4 29.0,22.2 29.1,19.9 C29.2,17.7 29.6,15.5 29.8,13.2 C30.0,11.0 29.5,8.0 30.4,6.5 C31.2,5.0 33.3,4.3 34.7,4.3Z" fill="#333333" filter="url(#b2)"/>
<path d="M35.0,8.0 C36.3,8.0 37.8,8.7 38.7,10.0 C39.6,11.3 39.7,14.0 40.3,16.0 C40.9,18.0 41.7,20.0 42.4,22.0 C43.1,24.0 43.8,26.0 44.6,28.0 C45.4,30.0 46.7,32.0 47.3,34.0 C47.9,36.0 48.4,38.2 48.4,40.0 C48.4,41.8 47.8,43.2 47.3,45.0 C46.8,46.8 46.2,49.2 45.7,51.0 C45.2,52.8 44.7,54.2 44.1,56.0 C43.5,57.8 43.0,60.2 42.4,62.0 C41.8,63.8 41.6,65.5 40.8,67.0 C40.0,68.5 38.5,71.0 37.5,71.0 C36.5,71.0 35.6,68.5 34.9,67.0 C34.2,65.5 33.8,63.8 33.3,62.0 C32.8,60.2 32.1,57.8 31.7,56.0 C31.2,54.2 31.0,52.8 30.6,51.0 C30.2,49.2 29.8,46.8 29.5,45.0 C29.2,43.2 29.1,41.8 29.0,40.0 C28.9,38.2 28.8,36.0 29.0,34.0 C29.2,32.0 29.8,30.0 30.0,28.0 C30.2,26.0 29.9,24.0 30.0,22.0 C30.1,20.0 30.4,18.0 30.6,16.0 C30.8,14.0 30.4,11.3 31.1,10.0 C31.8,8.7 33.7,8.0 35.0,8.0Z" fill="#737373" filter="url(#b13)"/>
<ellipse cx="38.0" cy="40" rx="5" ry="15" fill="#8c8c8c" filter="url(#b2)"/>
</g>
<rect x="0.5" y="0.5" width="74" height="74" fill="none" stroke="#1c2a7a" stroke-opacity="0.55" stroke-width="1"/>
<ellipse cx="36" cy="19.5" rx="14.6" ry="11.2" fill="none" stroke="#f4f4ff" stroke-opacity="0.9" stroke-width="1.6"/>
</svg>
<svg x="364" y="136" width="74" height="75" viewBox="0 0 74 75" overflow="hidden">
<g filter="url(#jet0)"><rect x="0" y="0" width="74" height="75" fill="#000"/>
<path d="M33.7,4.3 C35.1,4.3 36.9,5.0 37.9,6.5 C38.9,8.0 39.0,11.0 39.7,13.2 C40.4,15.5 41.2,17.7 42.0,19.9 C42.8,22.2 43.6,24.4 44.5,26.7 C45.4,28.9 46.8,31.1 47.5,33.4 C48.2,35.6 48.7,38.0 48.7,40.1 C48.7,42.1 48.0,43.6 47.5,45.7 C47.0,47.7 46.3,50.4 45.7,52.4 C45.1,54.5 44.5,56.0 43.9,58.0 C43.3,60.1 42.6,62.7 42.0,64.7 C41.4,66.8 41.1,68.7 40.2,70.3 C39.3,72.0 37.6,74.8 36.5,74.8 C35.4,74.8 34.4,72.0 33.6,70.3 C32.8,68.7 32.4,66.8 31.8,64.7 C31.2,62.7 30.5,60.1 30.0,58.0 C29.5,56.0 29.2,54.5 28.8,52.4 C28.4,50.4 27.9,47.7 27.6,45.7 C27.3,43.6 27.1,42.1 27.0,40.1 C26.9,38.0 26.8,35.6 27.0,33.4 C27.2,31.1 27.9,28.9 28.1,26.7 C28.3,24.4 28.0,22.2 28.1,19.9 C28.2,17.7 28.6,15.5 28.8,13.2 C29.0,11.0 28.5,8.0 29.4,6.5 C30.2,5.0 32.3,4.3 33.7,4.3Z" fill="#333333" filter="url(#b2)"/>
<path d="M34.0,8.0 C35.3,8.0 36.8,8.7 37.7,10.0 C38.6,11.3 38.7,14.0 39.3,16.0 C39.9,18.0 40.7,20.0 41.4,22.0 C42.1,24.0 42.8,26.0 43.6,28.0 C44.4,30.0 45.7,32.0 46.3,34.0 C46.9,36.0 47.4,38.2 47.4,40.0 C47.4,41.8 46.8,43.2 46.3,45.0 C45.8,46.8 45.2,49.2 44.7,51.0 C44.2,52.8 43.7,54.2 43.1,56.0 C42.5,57.8 42.0,60.2 41.4,62.0 C40.8,63.8 40.6,65.5 39.8,67.0 C39.0,68.5 37.5,71.0 36.5,71.0 C35.5,71.0 34.6,68.5 33.9,67.0 C33.2,65.5 32.8,63.8 32.3,62.0 C31.8,60.2 31.1,57.8 30.7,56.0 C30.2,54.2 30.0,52.8 29.6,51.0 C29.2,49.2 28.8,46.8 28.5,45.0 C28.2,43.2 28.1,41.8 28.0,40.0 C27.9,38.2 27.8,36.0 28.0,34.0 C28.2,32.0 28.8,30.0 29.0,28.0 C29.2,26.0 28.9,24.0 29.0,22.0 C29.1,20.0 29.4,18.0 29.6,16.0 C29.8,14.0 29.4,11.3 30.1,10.0 C30.8,8.7 32.7,8.0 34.0,8.0Z" fill="#737373" filter="url(#b13)"/>
<ellipse cx="37.0" cy="40" rx="5" ry="15" fill="#8c8c8c" filter="url(#b2)"/>
</g>
<rect x="0.5" y="0.5" width="73" height="74" fill="none" stroke="#1c2a7a" stroke-opacity="0.55" stroke-width="1"/>
<ellipse cx="35" cy="19" rx="14.6" ry="11.2" fill="none" stroke="#f4f4ff" stroke-opacity="0.9" stroke-width="1.6"/>
</svg>
<svg x="444" y="136" width="74" height="75" viewBox="0 0 74 75" overflow="hidden">
<g filter="url(#jet1)"><rect x="0" y="0" width="74" height="75" fill="#000"/>
<path d="M34.2,4.3 C35.6,4.3 37.4,5.0 38.4,6.5 C39.4,8.0 39.5,11.0 40.2,13.2 C40.9,15.5 41.7,17.7 42.5,19.9 C43.3,22.2 44.1,24.4 45.0,26.7 C45.9,28.9 47.3,31.1 48.0,33.4 C48.7,35.6 49.2,38.0 49.2,40.1 C49.2,42.1 48.5,43.6 48.0,45.7 C47.5,47.7 46.8,50.4 46.2,52.4 C45.6,54.5 45.0,56.0 44.4,58.0 C43.8,60.1 43.1,62.7 42.5,64.7 C41.9,66.8 41.6,68.7 40.7,70.3 C39.8,72.0 38.1,74.8 37.0,74.8 C35.9,74.8 34.9,72.0 34.1,70.3 C33.3,68.7 32.9,66.8 32.3,64.7 C31.7,62.7 31.0,60.1 30.5,58.0 C30.0,56.0 29.7,54.5 29.3,52.4 C28.9,50.4 28.4,47.7 28.1,45.7 C27.8,43.6 27.6,42.1 27.5,40.1 C27.4,38.0 27.3,35.6 27.5,33.4 C27.7,31.1 28.4,28.9 28.6,26.7 C28.8,24.4 28.5,22.2 28.6,19.9 C28.7,17.7 29.1,15.5 29.3,13.2 C29.5,11.0 29.0,8.0 29.9,6.5 C30.7,5.0 32.8,4.3 34.2,4.3Z" fill="#333333" filter="url(#b2)"/>
<path d="M34.5,8.0 C35.8,8.0 37.3,8.7 38.2,10.0 C39.1,11.3 39.2,14.0 39.8,16.0 C40.4,18.0 41.2,20.0 41.9,22.0 C42.6,24.0 43.3,26.0 44.1,28.0 C44.9,30.0 46.2,32.0 46.8,34.0 C47.4,36.0 47.9,38.2 47.9,40.0 C47.9,41.8 47.2,43.2 46.8,45.0 C46.3,46.8 45.7,49.2 45.2,51.0 C44.7,52.8 44.2,54.2 43.6,56.0 C43.0,57.8 42.5,60.2 41.9,62.0 C41.3,63.8 41.1,65.5 40.3,67.0 C39.5,68.5 38.0,71.0 37.0,71.0 C36.0,71.0 35.1,68.5 34.4,67.0 C33.7,65.5 33.3,63.8 32.8,62.0 C32.3,60.2 31.6,57.8 31.2,56.0 C30.8,54.2 30.5,52.8 30.1,51.0 C29.7,49.2 29.3,46.8 29.0,45.0 C28.7,43.2 28.6,41.8 28.5,40.0 C28.4,38.2 28.3,36.0 28.5,34.0 C28.7,32.0 29.3,30.0 29.5,28.0 C29.7,26.0 29.4,24.0 29.5,22.0 C29.6,20.0 29.9,18.0 30.1,16.0 C30.3,14.0 29.9,11.3 30.6,10.0 C31.3,8.7 33.2,8.0 34.5,8.0Z" fill="#737373" filter="url(#b13)"/>
<ellipse cx="37.5" cy="40" rx="5" ry="15" fill="#8c8c8c" filter="url(#b2)"/>
</g>
<rect x="0.5" y="0.5" width="73" height="74" fill="none" stroke="#1c2a7a" stroke-opacity="0.55" stroke-width="1"/>
<ellipse cx="35" cy="18.5" rx="14.6" ry="11.2" fill="none" stroke="#f4f4ff" stroke-opacity="0.9" stroke-width="1.6"/>
</svg>
<svg x="41" y="229" width="75" height="75" viewBox="0 0 75 75" overflow="hidden">
<g filter="url(#jet4)"><rect x="0" y="0" width="75" height="75" fill="#000"/>
<path d="M38.2,10.0 C40.5,10.0 43.1,10.3 45.2,11.0 C47.3,11.7 49.2,12.8 50.6,14.0 C52.0,15.2 52.6,16.5 53.3,18.0 C54.0,19.5 54.4,21.2 54.9,23.0 C55.4,24.8 55.8,27.0 56.0,29.0 C56.2,31.0 56.1,33.2 56.0,35.0 C55.9,36.8 55.7,38.3 55.4,40.0 C55.1,41.7 54.8,43.2 54.3,45.0 C53.8,46.8 53.3,49.2 52.7,51.0 C52.1,52.8 51.5,54.3 50.6,56.0 C49.7,57.7 48.4,59.5 47.3,61.0 C46.2,62.5 45.3,63.9 44.1,65.0 C42.9,66.1 41.4,67.5 40.0,67.5 C38.6,67.5 37.3,66.1 36.0,65.0 C34.7,63.9 33.4,62.5 32.2,61.0 C31.0,59.5 29.9,57.7 29.0,56.0 C28.1,54.3 27.6,52.8 26.9,51.0 C26.2,49.2 25.3,46.8 24.7,45.0 C24.1,43.2 23.6,41.7 23.1,40.0 C22.7,38.3 22.3,36.8 22.0,35.0 C21.7,33.2 21.5,31.0 21.5,29.0 C21.5,27.0 21.6,24.8 22.0,23.0 C22.4,21.2 22.9,19.5 23.6,18.0 C24.3,16.5 25.0,15.2 26.3,14.0 C27.6,12.8 29.2,11.7 31.2,11.0 C33.2,10.3 35.9,10.0 38.2,10.0Z" fill="#999999" filter="url(#b13)"/>
<path d="M38.3,12.5 C40.4,12.5 42.7,12.8 44.5,13.4 C46.3,14.0 48.0,15.0 49.2,16.0 C50.4,17.0 51.0,18.2 51.6,19.5 C52.2,20.9 52.6,22.3 53.0,23.9 C53.4,25.5 53.8,27.5 54.0,29.2 C54.1,31.0 54.1,32.9 54.0,34.5 C53.9,36.1 53.7,37.4 53.4,38.9 C53.2,40.4 52.9,41.7 52.5,43.3 C52.1,44.9 51.6,47.0 51.1,48.6 C50.5,50.2 50.0,51.5 49.2,53.0 C48.4,54.4 47.3,56.1 46.3,57.4 C45.4,58.7 44.6,59.9 43.5,60.9 C42.4,61.8 41.1,63.1 39.9,63.1 C38.7,63.1 37.5,61.8 36.4,60.9 C35.2,59.9 34.1,58.7 33.0,57.4 C32.0,56.1 31.0,54.4 30.2,53.0 C29.4,51.5 29.0,50.2 28.4,48.6 C27.7,47.0 27.0,44.9 26.4,43.3 C25.9,41.7 25.4,40.4 25.0,38.9 C24.6,37.4 24.3,36.1 24.1,34.5 C23.8,32.9 23.6,31.0 23.6,29.2 C23.6,27.5 23.7,25.5 24.1,23.9 C24.4,22.3 24.8,20.9 25.5,19.5 C26.1,18.2 26.7,17.0 27.8,16.0 C29.0,15.0 30.4,14.0 32.2,13.4 C33.9,12.8 36.3,12.5 38.3,12.5Z" fill="#d6d6d6" filter="url(#b2)"/>
<path d="M38.4,14.6 C40.2,14.6 42.2,14.8 43.7,15.3 C45.3,15.9 46.8,16.7 47.8,17.6 C48.9,18.5 49.4,19.5 49.9,20.7 C50.4,21.8 50.8,23.1 51.1,24.5 C51.5,25.9 51.8,27.5 51.9,29.0 C52.1,30.5 52.0,32.2 51.9,33.6 C51.9,35.0 51.7,36.1 51.5,37.4 C51.3,38.7 51.0,39.8 50.7,41.2 C50.3,42.6 49.9,44.4 49.4,45.7 C49.0,47.1 48.5,48.3 47.8,49.5 C47.2,50.8 46.2,52.2 45.3,53.3 C44.5,54.5 43.8,55.6 42.9,56.4 C42.0,57.2 40.8,58.3 39.8,58.3 C38.8,58.3 37.7,57.2 36.7,56.4 C35.8,55.6 34.7,54.5 33.9,53.3 C33.0,52.2 32.1,50.8 31.4,49.5 C30.8,48.3 30.4,47.1 29.8,45.7 C29.3,44.4 28.6,42.6 28.2,41.2 C27.7,39.8 27.3,38.7 26.9,37.4 C26.6,36.1 26.3,35.0 26.1,33.6 C25.9,32.2 25.7,30.5 25.7,29.0 C25.7,27.5 25.8,25.9 26.1,24.5 C26.4,23.1 26.8,21.8 27.3,20.7 C27.9,19.5 28.4,18.5 29.4,17.6 C30.3,16.7 31.6,15.9 33.1,15.3 C34.6,14.8 36.6,14.6 38.4,14.6Z" fill="#fafafa" filter="url(#b2)"/>
</g>
<rect x="0.5" y="0.5" width="74" height="74" fill="none" stroke="#1c2a7a" stroke-opacity="0.55" stroke-width="1"/>
<ellipse cx="38" cy="26.1" rx="14" ry="11.6" fill="none" stroke="#f4f4ff" stroke-opacity="0.9" stroke-width="1.6"/>
</svg>
<svg x="122" y="229" width="75" height="75" viewBox="0 0 75 75" overflow="hidden">
<g filter="url(#jet5)"><rect x="0" y="0" width="75" height="75" fill="#000"/>
<path d="M40.0,12.0 C42.0,12.0 44.2,12.2 46.0,13.0 C47.8,13.8 49.6,15.3 51.0,17.0 C52.4,18.7 53.9,21.0 54.6,23.0 C55.3,25.0 55.1,27.0 55.2,29.0 C55.3,31.0 55.2,33.2 55.2,35.0 C55.2,36.8 55.2,38.3 55.2,40.0 C55.2,41.7 55.4,43.2 55.2,45.0 C55.0,46.8 54.6,49.2 54.1,51.0 C53.6,52.8 53.3,54.3 52.5,56.0 C51.7,57.7 50.5,59.5 49.3,61.0 C48.0,62.5 46.5,63.9 45.0,65.0 C43.5,66.1 42.1,67.5 40.5,67.5 C38.9,67.5 36.8,66.1 35.2,65.0 C33.6,63.9 32.1,62.5 30.9,61.0 C29.6,59.5 28.6,57.7 27.7,56.0 C26.8,54.3 26.1,52.8 25.5,51.0 C24.9,49.2 24.2,46.8 23.9,45.0 C23.5,43.2 23.5,41.7 23.4,40.0 C23.3,38.3 23.4,36.8 23.4,35.0 C23.4,33.2 23.5,31.0 23.6,29.0 C23.7,27.0 23.2,25.0 23.9,23.0 C24.6,21.0 26.3,18.7 28.0,17.0 C29.7,15.3 32.0,13.8 34.0,13.0 C36.0,12.2 38.0,12.0 40.0,12.0Z" fill="#616161" filter="url(#b13)"/>
<ellipse cx="40" cy="20" rx="14" ry="8" fill="#262626" filter="url(#b2)"/>
<ellipse cx="40" cy="12" rx="12" ry="4" fill="#0f0f0f" filter="url(#b2)"/>
<ellipse cx="40" cy="31" rx="11" ry="4" fill="#616161" filter="url(#b2)"/>
<ellipse cx="41" cy="50" rx="12" ry="12" fill="#999999" filter="url(#b2)"/>
<ellipse cx="41.5" cy="50.5" rx="9" ry="6" fill="#cccccc" filter="url(#b15)"/>
</g>
<rect x="0.5" y="0.5" width="74" height="74" fill="none" stroke="#1c2a7a" stroke-opacity="0.55" stroke-width="1"/>
<ellipse cx="39.7" cy="27.3" rx="14.2" ry="11.3" fill="none" stroke="#f4f4ff" stroke-opacity="0.9" stroke-width="1.6"/>
</svg>
<svg x="204" y="229" width="74" height="75" viewBox="0 0 74 75" overflow="hidden">
<g filter="url(#jet0)"><rect x="0" y="0" width="74" height="75" fill="#000"/>
<path d="M37.0,12.0 C39.0,12.0 41.2,12.2 43.0,13.0 C44.8,13.8 46.6,15.3 48.0,17.0 C49.4,18.7 50.9,21.0 51.6,23.0 C52.3,25.0 52.1,27.0 52.2,29.0 C52.3,31.0 52.2,33.2 52.2,35.0 C52.2,36.8 52.2,38.3 52.2,40.0 C52.2,41.7 52.4,43.2 52.2,45.0 C52.0,46.8 51.6,49.2 51.1,51.0 C50.6,52.8 50.3,54.3 49.5,56.0 C48.7,57.7 47.5,59.5 46.3,61.0 C45.0,62.5 43.5,63.9 42.0,65.0 C40.5,66.1 39.1,67.5 37.5,67.5 C35.9,67.5 33.8,66.1 32.2,65.0 C30.6,63.9 29.1,62.5 27.9,61.0 C26.6,59.5 25.6,57.7 24.7,56.0 C23.8,54.3 23.1,52.8 22.5,51.0 C21.9,49.2 21.2,46.8 20.9,45.0 C20.5,43.2 20.5,41.7 20.4,40.0 C20.3,38.3 20.4,36.8 20.4,35.0 C20.4,33.2 20.5,31.0 20.6,29.0 C20.7,27.0 20.2,25.0 20.9,23.0 C21.6,21.0 23.3,18.7 25.0,17.0 C26.7,15.3 29.0,13.8 31.0,13.0 C33.0,12.2 35.0,12.0 37.0,12.0Z" fill="#6b6b6b" filter="url(#b13)"/>
<ellipse cx="37" cy="22" rx="12" ry="7" fill="#616161" filter="url(#b2)"/>
<ellipse cx="37" cy="17" rx="9" ry="3" fill="#474747" filter="url(#b2)"/>
<ellipse cx="36.5" cy="50" rx="14" ry="13" fill="#a8a8a8" filter="url(#b2)"/>
<ellipse cx="37" cy="50" rx="10" ry="8" fill="#cfcfcf" filter="url(#b15)"/>
</g>
<rect x="0.5" y="0.5" width="73" height="74" fill="none" stroke="#1c2a7a" stroke-opacity="0.55" stroke-width="1"/>
<ellipse cx="37" cy="26.5" rx="14.2" ry="11.3" fill="none" stroke="#f4f4ff" stroke-opacity="0.9" stroke-width="1.6"/>
</svg>
<svg x="284" y="229" width="75" height="75" viewBox="0 0 75 75" overflow="hidden">
<g filter="url(#jet1)"><rect x="0" y="0" width="75" height="75" fill="#000"/>
<path d="M37.0,12.0 C39.0,12.0 41.2,12.2 43.0,13.0 C44.8,13.8 46.6,15.3 48.0,17.0 C49.4,18.7 50.9,21.0 51.6,23.0 C52.3,25.0 52.1,27.0 52.2,29.0 C52.3,31.0 52.2,33.2 52.2,35.0 C52.2,36.8 52.2,38.3 52.2,40.0 C52.2,41.7 52.4,43.2 52.2,45.0 C52.0,46.8 51.6,49.2 51.1,51.0 C50.6,52.8 50.3,54.3 49.5,56.0 C48.7,57.7 47.5,59.5 46.3,61.0 C45.0,62.5 43.5,63.9 42.0,65.0 C40.5,66.1 39.1,67.5 37.5,67.5 C35.9,67.5 33.8,66.1 32.2,65.0 C30.6,63.9 29.1,62.5 27.9,61.0 C26.6,59.5 25.6,57.7 24.7,56.0 C23.8,54.3 23.1,52.8 22.5,51.0 C21.9,49.2 21.2,46.8 20.9,45.0 C20.5,43.2 20.5,41.7 20.4,40.0 C20.3,38.3 20.4,36.8 20.4,35.0 C20.4,33.2 20.5,31.0 20.6,29.0 C20.7,27.0 20.2,25.0 20.9,23.0 C21.6,21.0 23.3,18.7 25.0,17.0 C26.7,15.3 29.0,13.8 31.0,13.0 C33.0,12.2 35.0,12.0 37.0,12.0Z" fill="#6b6b6b" filter="url(#b13)"/>
<ellipse cx="37" cy="22" rx="12" ry="7" fill="#616161" filter="url(#b2)"/>
<ellipse cx="37" cy="17" rx="9" ry="3" fill="#474747" filter="url(#b2)"/>
<ellipse cx="36.5" cy="50" rx="14" ry="13" fill="#a8a8a8" filter="url(#b2)"/>
<ellipse cx="37" cy="50" rx="10" ry="8" fill="#cfcfcf" filter="url(#b15)"/>
</g>
<rect x="0.5" y="0.5" width="74" height="74" fill="none" stroke="#1c2a7a" stroke-opacity="0.55" stroke-width="1"/>
<ellipse cx="36" cy="26.8" rx="14.2" ry="11.3" fill="none" stroke="#f4f4ff" stroke-opacity="0.9" stroke-width="1.6"/>
</svg>
<svg x="364" y="229" width="74" height="75" viewBox="0 0 74 75" overflow="hidden">
<g filter="url(#jet2)"><rect x="0" y="0" width="74" height="75" fill="#000"/>
<path d="M38.5,12.0 C40.5,12.0 42.7,12.2 44.5,13.0 C46.3,13.8 48.1,15.3 49.5,17.0 C50.9,18.7 52.4,21.0 53.1,23.0 C53.8,25.0 53.6,27.0 53.7,29.0 C53.8,31.0 53.7,33.2 53.7,35.0 C53.7,36.8 53.7,38.3 53.7,40.0 C53.7,41.7 53.9,43.2 53.7,45.0 C53.5,46.8 53.1,49.2 52.6,51.0 C52.1,52.8 51.8,54.3 51.0,56.0 C50.2,57.7 49.0,59.5 47.8,61.0 C46.5,62.5 45.0,63.9 43.5,65.0 C42.0,66.1 40.6,67.5 39.0,67.5 C37.4,67.5 35.3,66.1 33.7,65.0 C32.1,63.9 30.6,62.5 29.4,61.0 C28.1,59.5 27.1,57.7 26.2,56.0 C25.3,54.3 24.6,52.8 24.0,51.0 C23.4,49.2 22.8,46.8 22.4,45.0 C22.0,43.2 22.0,41.7 21.9,40.0 C21.8,38.3 21.9,36.8 21.9,35.0 C21.9,33.2 22.0,31.0 22.1,29.0 C22.2,27.0 21.7,25.0 22.4,23.0 C23.1,21.0 24.8,18.7 26.5,17.0 C28.2,15.3 30.5,13.8 32.5,13.0 C34.5,12.2 36.5,12.0 38.5,12.0Z" fill="#6b6b6b" filter="url(#b13)"/>
<ellipse cx="38.5" cy="22" rx="12" ry="7" fill="#616161" filter="url(#b2)"/>
<ellipse cx="38.5" cy="17" rx="9" ry="3" fill="#474747" filter="url(#b2)"/>
<ellipse cx="38.0" cy="50" rx="14" ry="13" fill="#a8a8a8" filter="url(#b2)"/>
<ellipse cx="38.5" cy="50" rx="10" ry="8" fill="#cfcfcf" filter="url(#b15)"/>
</g>
<rect x="0.5" y="0.5" width="73" height="74" fill="none" stroke="#1c2a7a" stroke-opacity="0.55" stroke-width="1"/>
<ellipse cx="38" cy="27" rx="14.2" ry="11.3" fill="none" stroke="#f4f4ff" stroke-opacity="0.9" stroke-width="1.6"/>
</svg>
<svg x="444" y="229" width="74" height="75" viewBox="0 0 74 75" overflow="hidden">
<g filter="url(#jet3)"><rect x="0" y="0" width="74" height="75" fill="#000"/>
<path d="M39.0,12.0 C41.0,12.0 43.2,12.2 45.0,13.0 C46.8,13.8 48.6,15.3 50.0,17.0 C51.4,18.7 52.9,21.0 53.6,23.0 C54.3,25.0 54.1,27.0 54.2,29.0 C54.3,31.0 54.2,33.2 54.2,35.0 C54.2,36.8 54.2,38.3 54.2,40.0 C54.2,41.7 54.4,43.2 54.2,45.0 C54.0,46.8 53.6,49.2 53.1,51.0 C52.6,52.8 52.3,54.3 51.5,56.0 C50.7,57.7 49.5,59.5 48.3,61.0 C47.0,62.5 45.5,63.9 44.0,65.0 C42.5,66.1 41.1,67.5 39.5,67.5 C37.9,67.5 35.8,66.1 34.2,65.0 C32.6,63.9 31.1,62.5 29.9,61.0 C28.6,59.5 27.6,57.7 26.7,56.0 C25.8,54.3 25.1,52.8 24.5,51.0 C23.9,49.2 23.2,46.8 22.9,45.0 C22.5,43.2 22.5,41.7 22.4,40.0 C22.3,38.3 22.4,36.8 22.4,35.0 C22.4,33.2 22.5,31.0 22.6,29.0 C22.7,27.0 22.2,25.0 22.9,23.0 C23.6,21.0 25.3,18.7 27.0,17.0 C28.7,15.3 31.0,13.8 33.0,13.0 C35.0,12.2 37.0,12.0 39.0,12.0Z" fill="#6b6b6b" filter="url(#b13)"/>
<ellipse cx="39" cy="22" rx="12" ry="7" fill="#616161" filter="url(#b2)"/>
<ellipse cx="39" cy="17" rx="9" ry="3" fill="#474747" filter="url(#b2)"/>
<ellipse cx="38.5" cy="50" rx="14" ry="13" fill="#a8a8a8" filter="url(#b2)"/>
<ellipse cx="39" cy="50" rx="10" ry="8" fill="#cfcfcf" filter="url(#b15)"/>
</g>
<rect x="0.5" y="0.5" width="73" height="74" fill="none" stroke="#1c2a7a" stroke-opacity="0.55" stroke-width="1"/>
<ellipse cx="38.5" cy="27" rx="14.2" ry="11.3" fill="none" stroke="#f4f4ff" stroke-opacity="0.9" stroke-width="1.6"/>
</svg>
<text x="2" y="22" font-size="27" font-weight="bold">A</text>
<text x="96" y="14.8" font-size="17">FRAP</text>
<line x1="118.6" y1="17.2" x2="118.6" y2="31" stroke="#000" stroke-width="1.3"/>
<path d="M116.9,29.5 L118.6,36.2 L120.3,29.5 Z" fill="#000"/>
<text x="454.5" y="17.7" font-size="17">H</text>
<text x="493" y="17.7" font-size="17">L</text>
<rect x="454" y="21" width="50" height="11" fill="url(#cbar)"/>
<rect x="503.5" y="21" width="2.5" height="11" fill="#d02034"/>
<rect x="454" y="21" width="52" height="2" fill="#8c2058" fill-opacity="0.85"/>
<text transform="translate(15.0,78.6) rotate(-90)" text-anchor="middle" font-size="18">YFP</text>
<text transform="translate(37.0,78.4) rotate(-90)" text-anchor="middle" font-size="18">only</text>
<text transform="translate(15.6,171.6) rotate(-90)" text-anchor="middle" font-size="18">TDP-43-</text>
<text transform="translate(37.5,172.2) rotate(-90)" text-anchor="middle" font-size="18">YFP WT</text>
<text transform="translate(15.8,265.5) rotate(-90)" text-anchor="middle" font-size="18">TDP-C25-</text>
<text transform="translate(37.4,267.4) rotate(-90)" text-anchor="middle" font-size="18">YFP</text>
<text x="78.5" y="321.3" text-anchor="middle" font-size="18">0s</text>
<text x="158.5" y="321.3" text-anchor="middle" font-size="18">5s</text>
<text x="243.1" y="321.3" text-anchor="middle" font-size="18">39.5s</text>
<text x="322.0" y="321.3" text-anchor="middle" font-size="18">62.5s</text>
<text x="402.0" y="321.3" text-anchor="middle" font-size="18">85.5s</text>
<text x="480.5" y="321.3" text-anchor="middle" font-size="18">120s</text>
<text x="93.5" y="367.2" font-size="27" font-weight="bold">B</text>
<path d="M169.6,370.2 Q172,369.6 172,372.5 L172,589" fill="none" stroke="#333" stroke-width="1.9" stroke-linecap="round"/>
<path d="M172.8,589.5 L172.8,652 M170,652 L440,652 L440,655" fill="none" stroke="#000" stroke-width="2"/>
<line x1="169" y1="417.0" x2="172" y2="417.0" stroke="#000" stroke-width="1.8"/>
<text x="167" y="424.3" text-anchor="end" font-size="18">100</text>
<line x1="169" y1="464.0" x2="172" y2="464.0" stroke="#000" stroke-width="1.8"/>
<text x="167" y="471.3" text-anchor="end" font-size="18">80</text>
<line x1="169" y1="511.0" x2="172" y2="511.0" stroke="#000" stroke-width="1.8"/>
<text x="167" y="518.3" text-anchor="end" font-size="18">60</text>
<line x1="169" y1="558.0" x2="172" y2="558.0" stroke="#000" stroke-width="1.8"/>
<text x="167" y="565.3" text-anchor="end" font-size="18">40</text>
<line x1="169" y1="605.0" x2="172" y2="605.0" stroke="#000" stroke-width="1.8"/>
<text x="167" y="612.3" text-anchor="end" font-size="18">20</text>
<line x1="171.7" y1="652" x2="171.7" y2="655" stroke="#000" stroke-width="1.5"/>
<line x1="194.1" y1="652" x2="194.1" y2="655" stroke="#000" stroke-width="1.5"/>
<line x1="216.5" y1="652" x2="216.5" y2="655" stroke="#000" stroke-width="1.5"/>
<line x1="238.9" y1="652" x2="238.9" y2="655" stroke="#000" stroke-width="1.5"/>
<line x1="261.3" y1="652" x2="261.3" y2="655" stroke="#000" stroke-width="1.5"/>
<line x1="283.7" y1="652" x2="283.7" y2="655" stroke="#000" stroke-width="1.5"/>
<line x1="306.1" y1="652" x2="306.1" y2="655" stroke="#000" stroke-width="1.5"/>
<line x1="328.5" y1="652" x2="328.5" y2="655" stroke="#000" stroke-width="1.5"/>
<line x1="350.9" y1="652" x2="350.9" y2="655" stroke="#000" stroke-width="1.5"/>
<line x1="373.3" y1="652" x2="373.3" y2="655" stroke="#000" stroke-width="1.5"/>
<line x1="395.7" y1="652" x2="395.7" y2="655" stroke="#000" stroke-width="1.5"/>
<line x1="418.1" y1="652" x2="418.1" y2="655" stroke="#000" stroke-width="1.5"/>
<line x1="440.5" y1="652" x2="440.5" y2="655" stroke="#000" stroke-width="1.5"/>
<text x="172.7" y="671" text-anchor="middle" font-size="18">0</text>
<text x="195.3" y="671" text-anchor="middle" font-size="18">5</text>
<text x="238.3" y="671" text-anchor="middle" font-size="18">28</text>
<text x="283.6" y="671" text-anchor="middle" font-size="18">51</text>
<text x="328.3" y="671" text-anchor="middle" font-size="18">74</text>
<text x="373.6" y="671" text-anchor="middle" font-size="18">97</text>
<text x="417.3" y="671" text-anchor="middle" font-size="18">120</text>
<text x="266.2" y="689.6" font-size="18.2">Time (s)</text>
<text transform="translate(109.4,514.6) rotate(-90)" text-anchor="middle" font-size="18.3">Relative Intensity</text>
<text transform="translate(130.6,514.2) rotate(-90)" text-anchor="middle" font-size="18.3">(bleached/unbleached)</text>
<path d="M197.7,455.0 V469.0" stroke="#6a6a6a" stroke-width="1.4" fill="none"/>
<path d="M195.7,455.0 h4 M195.7,469.0 h4" stroke="#2a2a2a" stroke-width="1.5" fill="none"/>
<path d="M220.0,438.0 V448.5" stroke="#6a6a6a" stroke-width="1.4" fill="none"/>
<path d="M218.0,438.0 h4 M218.0,448.5 h4" stroke="#2a2a2a" stroke-width="1.5" fill="none"/>
<path d="M242.2,433.0 V443.5" stroke="#6a6a6a" stroke-width="1.4" fill="none"/>
<path d="M240.2,433.0 h4 M240.2,443.5 h4" stroke="#2a2a2a" stroke-width="1.5" fill="none"/>
<path d="M264.4,431.4 V442.1" stroke="#6a6a6a" stroke-width="1.4" fill="none"/>
<path d="M262.4,431.4 h4 M262.4,442.1 h4" stroke="#2a2a2a" stroke-width="1.5" fill="none"/>
<path d="M286.6,428.6 V437.9" stroke="#6a6a6a" stroke-width="1.4" fill="none"/>
<path d="M284.6,428.6 h4 M284.6,437.9 h4" stroke="#2a2a2a" stroke-width="1.5" fill="none"/>
<path d="M308.9,433.9 V440.1" stroke="#6a6a6a" stroke-width="1.4" fill="none"/>
<path d="M306.9,433.9 h4 M306.9,440.1 h4" stroke="#2a2a2a" stroke-width="1.5" fill="none"/>
<path d="M331.1,434.2 V444.2" stroke="#6a6a6a" stroke-width="1.4" fill="none"/>
<path d="M329.1,434.2 h4 M329.1,444.2 h4" stroke="#2a2a2a" stroke-width="1.5" fill="none"/>
<path d="M353.3,432.4 V438.6" stroke="#6a6a6a" stroke-width="1.4" fill="none"/>
<path d="M351.3,432.4 h4 M351.3,438.6 h4" stroke="#2a2a2a" stroke-width="1.5" fill="none"/>
<path d="M375.6,434.4 V441.1" stroke="#6a6a6a" stroke-width="1.4" fill="none"/>
<path d="M373.6,434.4 h4 M373.6,441.1 h4" stroke="#2a2a2a" stroke-width="1.5" fill="none"/>
<path d="M397.8,433.2 V446.8" stroke="#6a6a6a" stroke-width="1.4" fill="none"/>
<path d="M395.8,433.2 h4 M395.8,446.8 h4" stroke="#2a2a2a" stroke-width="1.5" fill="none"/>
<path d="M420.0,431.5 V437.0" stroke="#6a6a6a" stroke-width="1.4" fill="none"/>
<path d="M418.0,431.5 h4 M418.0,437.0 h4" stroke="#2a2a2a" stroke-width="1.5" fill="none"/>
<polyline points="175.5,417.0 197.7,462.0 220.0,443.2 242.2,438.2 264.4,436.8 286.6,433.2 308.9,437.0 331.1,439.2 353.3,435.5 375.6,437.8 397.8,440.0 420.0,434.2" fill="none" stroke="#6872a8" stroke-width="1.7" stroke-linejoin="round"/>
<path d="M175.5,413.7 L178.5,417 L175.5,420.3 L172.5,417 Z" fill="#8294cc" stroke="#5a6ea8" stroke-width="0.6"/>
<path d="M197.73,458.7 L200.73,462 L197.73,465.3 L194.73,462 Z" fill="#8294cc" stroke="#5a6ea8" stroke-width="0.6"/>
<path d="M219.96,439.95 L222.96,443.25 L219.96,446.55 L216.96,443.25 Z" fill="#8294cc" stroke="#5a6ea8" stroke-width="0.6"/>
<path d="M242.19,434.95 L245.19,438.25 L242.19,441.55 L239.19,438.25 Z" fill="#8294cc" stroke="#5a6ea8" stroke-width="0.6"/>
<path d="M264.42,433.45 L267.42,436.75 L264.42,440.05 L261.42,436.75 Z" fill="#8294cc" stroke="#5a6ea8" stroke-width="0.6"/>
<path d="M286.65,429.95 L289.65,433.25 L286.65,436.55 L283.65,433.25 Z" fill="#8294cc" stroke="#5a6ea8" stroke-width="0.6"/>
<path d="M308.88,433.7 L311.88,437 L308.88,440.3 L305.88,437 Z" fill="#8294cc" stroke="#5a6ea8" stroke-width="0.6"/>
<path d="M331.11,435.95 L334.11,439.25 L331.11,442.55 L328.11,439.25 Z" fill="#8294cc" stroke="#5a6ea8" stroke-width="0.6"/>
<path d="M353.34000000000003,432.2 L356.34000000000003,435.5 L353.34000000000003,438.8 L350.34000000000003,435.5 Z" fill="#8294cc" stroke="#5a6ea8" stroke-width="0.6"/>
<path d="M375.57,434.45 L378.57,437.75 L375.57,441.05 L372.57,437.75 Z" fill="#8294cc" stroke="#5a6ea8" stroke-width="0.6"/>
<path d="M397.8,436.7 L400.8,440 L397.8,443.3 L394.8,440 Z" fill="#8294cc" stroke="#5a6ea8" stroke-width="0.6"/>
<path d="M420.03,430.95 L423.03,434.25 L420.03,437.55 L417.03,434.25 Z" fill="#8294cc" stroke="#5a6ea8" stroke-width="0.6"/>
<path d="M197.7,551.6 V565.6" stroke="#6a6a6a" stroke-width="1.4" fill="none"/>
<path d="M195.7,551.6 h4 M195.7,565.6 h4" stroke="#2a2a2a" stroke-width="1.5" fill="none"/>
<path d="M220.0,518.0 V538.5" stroke="#6a6a6a" stroke-width="1.4" fill="none"/>
<path d="M218.0,518.0 h4 M218.0,538.5 h4" stroke="#2a2a2a" stroke-width="1.5" fill="none"/>
<path d="M242.2,512.8 V532.2" stroke="#6a6a6a" stroke-width="1.4" fill="none"/>
<path d="M240.2,512.8 h4 M240.2,532.2 h4" stroke="#2a2a2a" stroke-width="1.5" fill="none"/>
<path d="M264.4,498.0 V516.0" stroke="#6a6a6a" stroke-width="1.4" fill="none"/>
<path d="M262.4,498.0 h4 M262.4,516.0 h4" stroke="#2a2a2a" stroke-width="1.5" fill="none"/>
<path d="M286.6,490.8 V509.2" stroke="#6a6a6a" stroke-width="1.4" fill="none"/>
<path d="M284.6,490.8 h4 M284.6,509.2 h4" stroke="#2a2a2a" stroke-width="1.5" fill="none"/>
<path d="M308.9,483.9 V502.4" stroke="#6a6a6a" stroke-width="1.4" fill="none"/>
<path d="M306.9,483.9 h4 M306.9,502.4 h4" stroke="#2a2a2a" stroke-width="1.5" fill="none"/>
<path d="M331.1,480.1 V497.1" stroke="#6a6a6a" stroke-width="1.4" fill="none"/>
<path d="M329.1,480.1 h4 M329.1,497.1 h4" stroke="#2a2a2a" stroke-width="1.5" fill="none"/>
<path d="M353.3,475.4 V490.8" stroke="#6a6a6a" stroke-width="1.4" fill="none"/>
<path d="M351.3,475.4 h4 M351.3,490.8 h4" stroke="#2a2a2a" stroke-width="1.5" fill="none"/>
<path d="M375.6,474.4 V486.9" stroke="#6a6a6a" stroke-width="1.4" fill="none"/>
<path d="M373.6,474.4 h4 M373.6,486.9 h4" stroke="#2a2a2a" stroke-width="1.5" fill="none"/>
<path d="M397.8,468.1 V479.5" stroke="#6a6a6a" stroke-width="1.4" fill="none"/>
<path d="M395.8,468.1 h4 M395.8,479.5 h4" stroke="#2a2a2a" stroke-width="1.5" fill="none"/>
<path d="M420.0,466.8 V484.0" stroke="#6a6a6a" stroke-width="1.4" fill="none"/>
<path d="M418.0,466.8 h4 M418.0,484.0 h4" stroke="#2a2a2a" stroke-width="1.5" fill="none"/>
<polyline points="175.5,416.0 197.7,558.6 220.0,528.2 242.2,522.5 264.4,507.0 286.6,500.0 308.9,493.2 331.1,488.6 353.3,483.1 375.6,480.6 397.8,473.8 420.0,475.4" fill="none" stroke="#d65c64" stroke-width="1.9" stroke-linejoin="round"/>
<rect x="172.3" y="412.8" width="6.4" height="6.4" fill="#da6870" stroke="#c8505a" stroke-width="0.6"/>
<rect x="194.5" y="555.4" width="6.4" height="6.4" fill="#da6870" stroke="#c8505a" stroke-width="0.6"/>
<rect x="216.8" y="525.0" width="6.4" height="6.4" fill="#da6870" stroke="#c8505a" stroke-width="0.6"/>
<rect x="239.0" y="519.3" width="6.4" height="6.4" fill="#da6870" stroke="#c8505a" stroke-width="0.6"/>
<rect x="261.2" y="503.8" width="6.4" height="6.4" fill="#da6870" stroke="#c8505a" stroke-width="0.6"/>
<rect x="283.4" y="496.8" width="6.4" height="6.4" fill="#da6870" stroke="#c8505a" stroke-width="0.6"/>
<rect x="305.7" y="490.0" width="6.4" height="6.4" fill="#da6870" stroke="#c8505a" stroke-width="0.6"/>
<rect x="327.9" y="485.4" width="6.4" height="6.4" fill="#da6870" stroke="#c8505a" stroke-width="0.6"/>
<rect x="350.1" y="479.9" width="6.4" height="6.4" fill="#da6870" stroke="#c8505a" stroke-width="0.6"/>
<rect x="372.4" y="477.4" width="6.4" height="6.4" fill="#da6870" stroke="#c8505a" stroke-width="0.6"/>
<rect x="394.6" y="470.6" width="6.4" height="6.4" fill="#da6870" stroke="#c8505a" stroke-width="0.6"/>
<rect x="416.8" y="472.2" width="6.4" height="6.4" fill="#da6870" stroke="#c8505a" stroke-width="0.6"/>
<path d="M220.0,567.9 V570.9" stroke="#6a6a6a" stroke-width="1.4" fill="none"/>
<path d="M218.0,567.9 h4 M218.0,570.9 h4" stroke="#2a2a2a" stroke-width="1.5" fill="none"/>
<path d="M242.2,563.3 V566.3" stroke="#6a6a6a" stroke-width="1.4" fill="none"/>
<path d="M240.2,563.3 h4 M240.2,566.3 h4" stroke="#2a2a2a" stroke-width="1.5" fill="none"/>
<path d="M264.4,563.5 V566.5" stroke="#6a6a6a" stroke-width="1.4" fill="none"/>
<path d="M262.4,563.5 h4 M262.4,566.5 h4" stroke="#2a2a2a" stroke-width="1.5" fill="none"/>
<path d="M286.6,564.1 V567.1" stroke="#6a6a6a" stroke-width="1.4" fill="none"/>
<path d="M284.6,564.1 h4 M284.6,567.1 h4" stroke="#2a2a2a" stroke-width="1.5" fill="none"/>
<path d="M308.9,553.9 V563.1" stroke="#6a6a6a" stroke-width="1.4" fill="none"/>
<path d="M306.9,553.9 h4 M306.9,563.1 h4" stroke="#2a2a2a" stroke-width="1.5" fill="none"/>
<path d="M331.1,555.1 V564.9" stroke="#6a6a6a" stroke-width="1.4" fill="none"/>
<path d="M329.1,555.1 h4 M329.1,564.9 h4" stroke="#2a2a2a" stroke-width="1.5" fill="none"/>
<path d="M353.3,550.9 V567.1" stroke="#6a6a6a" stroke-width="1.4" fill="none"/>
<path d="M351.3,550.9 h4 M351.3,567.1 h4" stroke="#2a2a2a" stroke-width="1.5" fill="none"/>
<path d="M375.6,548.6 V564.0" stroke="#6a6a6a" stroke-width="1.4" fill="none"/>
<path d="M373.6,548.6 h4 M373.6,564.0 h4" stroke="#2a2a2a" stroke-width="1.5" fill="none"/>
<path d="M397.8,542.5 V559.0" stroke="#6a6a6a" stroke-width="1.4" fill="none"/>
<path d="M395.8,542.5 h4 M395.8,559.0 h4" stroke="#2a2a2a" stroke-width="1.5" fill="none"/>
<path d="M420.0,540.6 V561.0" stroke="#6a6a6a" stroke-width="1.4" fill="none"/>
<path d="M418.0,540.6 h4 M418.0,561.0 h4" stroke="#2a2a2a" stroke-width="1.5" fill="none"/>
<polyline points="175.5,417.0 197.7,582.3 220.0,569.4 242.2,564.8 264.4,565.0 286.6,565.6 308.9,558.5 331.1,560.0 353.3,559.0 375.6,556.3 397.8,550.8 420.0,550.8" fill="none" stroke="#379045" stroke-width="2.2" stroke-linejoin="round"/>
<path d="M175.5,413.4 L178.9,419.8 L172.1,419.8 Z" fill="#3d944c" stroke="#2f7a40" stroke-width="0.6"/>
<path d="M197.73,578.6999999999999 L201.13,585.0999999999999 L194.32999999999998,585.0999999999999 Z" fill="#3d944c" stroke="#2f7a40" stroke-width="0.6"/>
<path d="M219.96,565.8 L223.36,572.1999999999999 L216.56,572.1999999999999 Z" fill="#3d944c" stroke="#2f7a40" stroke-width="0.6"/>
<path d="M242.19,561.1999999999999 L245.59,567.5999999999999 L238.79,567.5999999999999 Z" fill="#3d944c" stroke="#2f7a40" stroke-width="0.6"/>
<path d="M264.42,561.4 L267.82,567.8 L261.02000000000004,567.8 Z" fill="#3d944c" stroke="#2f7a40" stroke-width="0.6"/>
<path d="M286.65,562.0 L290.04999999999995,568.4 L283.25,568.4 Z" fill="#3d944c" stroke="#2f7a40" stroke-width="0.6"/>
<path d="M308.88,554.9 L312.28,561.3 L305.48,561.3 Z" fill="#3d944c" stroke="#2f7a40" stroke-width="0.6"/>
<path d="M331.11,556.4 L334.51,562.8 L327.71000000000004,562.8 Z" fill="#3d944c" stroke="#2f7a40" stroke-width="0.6"/>
<path d="M353.34000000000003,555.4 L356.74,561.8 L349.94000000000005,561.8 Z" fill="#3d944c" stroke="#2f7a40" stroke-width="0.6"/>
<path d="M375.57,552.6999999999999 L378.96999999999997,559.0999999999999 L372.17,559.0999999999999 Z" fill="#3d944c" stroke="#2f7a40" stroke-width="0.6"/>
<path d="M397.8,547.1999999999999 L401.2,553.5999999999999 L394.40000000000003,553.5999999999999 Z" fill="#3d944c" stroke="#2f7a40" stroke-width="0.6"/>
<path d="M420.03,547.1999999999999 L423.42999999999995,553.5999999999999 L416.63,553.5999999999999 Z" fill="#3d944c" stroke="#2f7a40" stroke-width="0.6"/>
<line x1="227" y1="354.8" x2="244.8" y2="354.8" stroke="#6e84b8" stroke-width="1.8"/>
<path d="M235.8,352.0 L238.60000000000002,354.8 L235.8,357.6 L233.0,354.8 Z" fill="#6e84b8"/>
<text x="246.3" y="360.8" font-size="18">YFP only</text>
<line x1="227" y1="373.8" x2="244.8" y2="373.8" stroke="#d95a5e" stroke-width="1.8"/>
<rect x="233.10000000000002" y="371.1" width="5.4" height="5.4" fill="#d95a5e"/>
<text x="246.3" y="379.8" font-size="18">TDP-43-YFP WT</text>
<line x1="227" y1="392.8" x2="244.8" y2="392.8" stroke="#3c8f48" stroke-width="1.8"/>
<path d="M235.8,389.8 L238.8,395.2 L232.8,395.2 Z" fill="#3c8f48"/>
<text x="246.3" y="398.8" font-size="18">TDP-C25-YFP</text>
</svg></body></html>
